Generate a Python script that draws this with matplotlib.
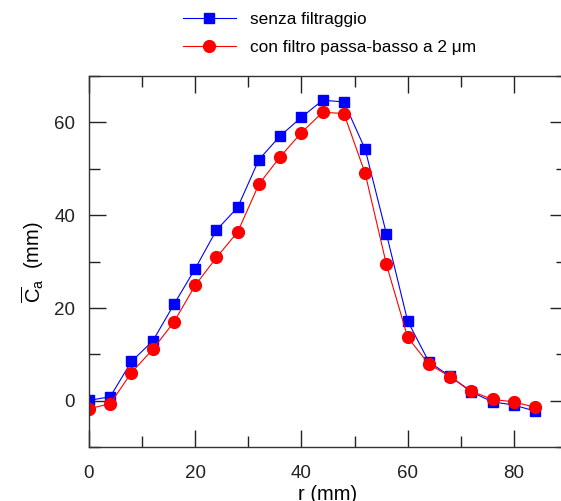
import matplotlib
matplotlib.use("Agg")
import matplotlib.pyplot as plt
from matplotlib.ticker import MultipleLocator

plt.rcParams['font.family'] = ['Liberation Sans', 'DejaVu Sans']
plt.rcParams['mathtext.fontset'] = 'custom'
plt.rcParams['mathtext.rm'] = 'Liberation Sans'
plt.rcParams['mathtext.it'] = 'Liberation Sans'

r = [0, 4, 8, 12, 16, 20, 24, 28, 32, 36, 40, 44, 48, 52, 56, 60, 64, 68, 72, 76, 80, 84]
senza = [0.1, 0.9, 8.5, 12.9, 20.8, 28.5, 36.8, 41.7, 52.0, 57.1, 61.1, 64.8, 64.4, 54.2,
         36.0, 17.2, 8.4, 5.3, 1.9, -0.2, -0.9, -2.2]
filtro = [-1.7, -0.6, 6.1, 11.1, 17.0, 24.9, 30.9, 36.4, 46.7, 52.6, 57.8, 62.2, 61.9, 49.0,
          29.4, 13.7, 7.9, 5.2, 2.1, 0.3, -0.2, -1.4]
labels = ["senza filtraggio", "con filtro passa-basso a 2 \u03bcm"]

fig = plt.figure(figsize=(5.61, 5.01), dpi=100)
ax = fig.add_axes([89/561, (501-447.3)/501, 478/561, (447.3-76)/501])

l1, = ax.plot(r, senza, color='#0000ff', lw=0.8, marker='s', ms=7.5, mec='#0000ff', mfc='#0000ff')
l2, = ax.plot(r, filtro, color='#ff0000', lw=0.8, marker='o', ms=8.5, mec='#ff0000', mfc='#ff0000')

ax.set_xlim(0, 90)
ax.set_ylim(-10, 70)
ax.xaxis.set_major_locator(MultipleLocator(20))
ax.xaxis.set_minor_locator(MultipleLocator(10))
ax.yaxis.set_major_locator(MultipleLocator(20))
ax.yaxis.set_minor_locator(MultipleLocator(10))
ax.tick_params(which='both', direction='in', top=True, right=True, labelsize=13.5, colors='#222222')
ax.tick_params(axis='y', which='both', pad=10)
ax.tick_params(axis='x', which='both', pad=13)
ax.tick_params(which='major', length=12, width=1)
ax.tick_params(which='minor', length=8, width=1)
for s in ax.spines.values():
    s.set_color('#333333')
    s.set_linewidth(1)

ax.set_xlabel("r (mm)", fontsize=14.5, labelpad=2)
ax.set_ylabel(r"$\overline{\mathrm{C}}_{\mathrm{a}}$  (mm)", fontsize=14.5, labelpad=6)

fig.legend([l1, l2], labels, loc='upper left', bbox_to_anchor=(167/561, 1.0 + 4/501), frameon=False,
           fontsize=12.4, handlelength=3.1, handletextpad=0.8, labelspacing=0.8)

fig.savefig("out.png", dpi=100)
